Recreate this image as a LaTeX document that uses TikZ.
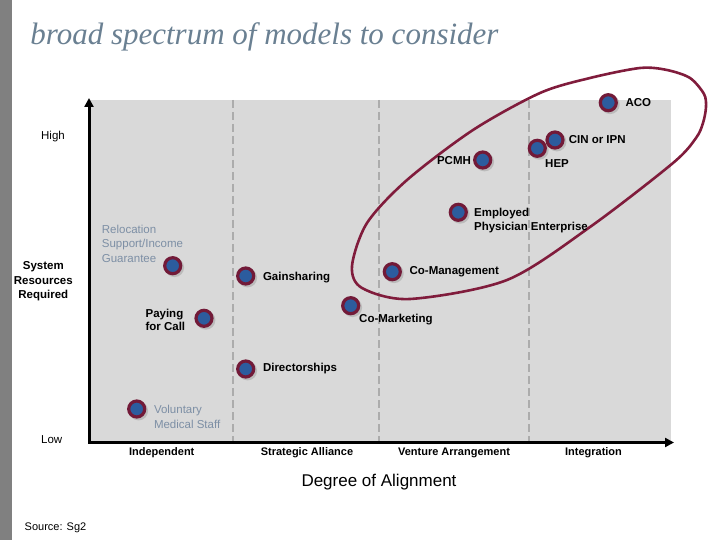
\documentclass[tikz,border=0pt]{standalone}
\usepackage{fontspec}
\setmainfont{Liberation Sans}
\newfontfamily\titlefont{Liberation Serif}
\usetikzlibrary{arrows.meta, positioning, shadows}

\definecolor{dotblue}{HTML}{2C5C9E}
\definecolor{dotring}{HTML}{721A38}
\definecolor{loopred}{HTML}{801C3C}
\definecolor{plotgray}{HTML}{D9D9D9}
\definecolor{slate}{HTML}{6A8092}
\definecolor{paleblue}{HTML}{7D8FA5}
\definecolor{bargray}{HTML}{808080}

\begin{document}
\begin{tikzpicture}[x=1pt, y=-1pt,
    dot/.style={circle, fill=dotblue, draw=dotring, line width=3.2pt,
                minimum size=16pt, inner sep=0pt,
                drop shadow={shadow xshift=1.5pt, shadow yshift=-1.5pt,
                             shadow scale=1.2, fill=gray!75}},
    lbl/.style={font=\fontsize{11.5}{13.7}\selectfont\bfseries, inner sep=1pt, align=left},
    pale/.style={font=\fontsize{11.5}{14.3}\selectfont, text=paleblue, inner sep=1pt, align=left},
    side/.style={font=\fontsize{11.5}{14.5}\selectfont, inner sep=1pt, align=center},
    axislbl/.style={font=\fontsize{11}{13}\selectfont\bfseries, inner sep=1pt},
    divider/.style={draw=gray!65, line width=1.8pt, dash pattern=on 8pt off 4pt},
    axis/.style={line width=3pt,
                 {Triangle[length=9pt,width=9pt]}-{Triangle[length=9pt,width=9pt]}},
    loop/.style={draw=loopred, line width=2.6pt},
    node distance=7pt
  ]
    \useasboundingbox (0,0) rectangle (720,540);
    \fill[bargray] (0,0) rectangle (11.5,540);

    % Title
    \node[anchor=base west, inner sep=0pt, text=slate,
          font=\titlefont\itshape\fontsize{31}{36}\selectfont] (title) at (30.2,45)
          {broad spectrum of models to consider};

    % Plot area
    \fill[plotgray] (89,100) rectangle (671,442.5);
    \foreach \gx in {233.3, 379.3, 529.3}
      \draw[divider] (\gx,100) -- (\gx,442.5);

    % Circled group
    \draw[loop] plot[smooth cycle] coordinates {
      (352,266) (367,223) (407,180) (473,130) (540,93) (590,78) (640,68)
      (667,70) (690,78) (704,94) (706,107) (703,123) (696,138) (673,163)
      (590,227) (507,280) (410,299) (362,288)};

    % Axes
    \coordinate (origin) at (89,442.5);
    \coordinate (xtip) at (674,442.5);
    \coordinate (ytip) at (89,98);
    \draw[axis] (xtip) -- (origin) -- (ytip);

    % Models
    \node[dot] (aco) at (608.3,102.7) {};
    \node[dot] (hep) at (537.3,148.3) {};
    \node[dot] (cin) at (555,140) {};
    \node[dot] (pcmh) at (482.7,160) {};
    \node[dot] (emp) at (458.3,212.3) {};
    \node[dot] (coman) at (392.3,271.7) {};
    \node[dot] (comkt) at (350.7,305.7) {};
    \node[dot] (gain) at (245.7,276) {};
    \node[dot] (reloc) at (172.7,265.7) {};
    \node[dot] (pay) at (204,318.3) {};
    \node[dot] (direct) at (245.7,369) {};
    \node[dot] (volun) at (136.7,409) {};

    % Model labels
    \node[lbl, right=6.5pt of aco] (aco-l) {ACO};
    \node[lbl, right=3pt of cin] (cin-l) {CIN or IPN};
    \node[lbl, anchor=west] (hep-l) at (544,163.3) {HEP};
    \node[lbl, left=1pt of pcmh, yshift=-1pt] (pcmh-l) {PCMH};
    \node[lbl, right=5pt of emp, yshift=-8.5pt] (emp-l) {Employed\\Physician Enterprise};
    \node[lbl, right=6.5pt of coman] (coman-l) {Co-Management};
    \node[lbl, anchor=west] (comkt-l) at (358,320) {Co-Marketing};
    \node[lbl, right=6.5pt of gain, yshift=-1.5pt] (gain-l) {Gainsharing};
    \node[pale, anchor=north west] (reloc-l) at (100.7,224) {Relocation\\Support/Income\\Guarantee};
    \node[lbl, left=8pt of pay, yshift=-1.5pt] (pay-l) {Paying\\for Call};
    \node[lbl, right=6.5pt of direct] (direct-l) {Directorships};
    \node[pale, right=6.5pt of volun, yshift=-8pt] (volun-l) {Voluntary\\Medical Staff};

    % Axis labels
    \node[side] (high) at (53,137) {High};
    \node[side, font=\fontsize{11.5}{14.5}\selectfont\bfseries] (sys) at (43.3,281.5) {System\\Resources\\Required};
    \node[side] (low) at (51.7,440) {Low};
    \foreach \cx/\txt [count=\i] in {161.7/Independent, 307/Strategic Alliance,
                                     454/Venture Arrangement, 593.5/Integration}
      \node[axislbl] (xl\i) at (\cx,453) {\txt};
    \node[font=\fontsize{17}{20}\selectfont] (degree) at (379,482) {Degree of Alignment};
    \node[anchor=west, inner sep=0pt, font=\fontsize{11}{13}\selectfont] (source) at (24.5,528) {Source: Sg2};
  \end{tikzpicture}
\end{document}
